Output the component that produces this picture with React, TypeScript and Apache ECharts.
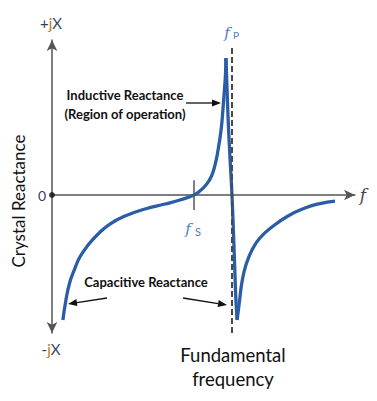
import React, { useEffect, useRef } from "react";
import * as echarts from "echarts";

// Reactance curve (frequency 0..10, reactance -8.9..10)
const capacitiveToInductive: [number, number][] = [
  [0.36, -8.06], [0.46, -6.77], [0.59, -5.61], [0.76, -4.71], [0.92, -4.0],
  [1.19, -3.23], [1.52, -2.52], [1.91, -1.87], [2.41, -1.35], [3.07, -0.9],
  [3.73, -0.58], [4.22, -0.32], [4.69, 0], [4.88, 0.26], [5.08, 0.65],
  [5.25, 1.16], [5.38, 1.94], [5.48, 2.9], [5.58, 4.19], [5.64, 5.48],
  [5.69, 6.77], [5.73, 7.94], [5.74, 8.84],
];
const resonanceDrop: [number, number][] = [
  [5.74, 8.84], [5.81, 5.03], [5.87, 2.58], [5.94, 0], [6.01, -3.55], [6.07, -6.77], [6.11, -8.06],
];
const capacitiveHigh: [number, number][] = [
  [6.11, -8.06], [6.2, -6.65], [6.27, -5.61], [6.4, -4.52], [6.6, -3.55],
  [6.86, -2.77], [7.26, -2.06], [7.79, -1.35], [8.35, -0.84], [8.84, -0.55], [9.34, -0.39],
];
const fS = 4.69;
const fP = 5.94;
const dashedTop = 9.48;
const yMin = -8.9;
const yMax = 10;
const xMin = 0;
const xMax = 10;

const CURVE = "#2b5ca8";
const AXIS = "#555555";

export default function App() {
  const ref = useRef<HTMLDivElement>(null);
  useEffect(() => {
    if (!ref.current) return;
    const chart = echarts.init(ref.current, undefined, { renderer: "svg" });
    const lineSeries = (data: [number, number][]) => ({
      type: "line",
      data,
      smooth: 0.5,
      showSymbol: false,
      symbol: "none",
      lineStyle: { color: CURVE, width: 3.3 },
      clip: false,
      silent: true,
      z: 3,
    });
    const arrowHead = (pts: number[][]) => ({
      type: "polygon",
      shape: { points: pts },
      style: { fill: "#111" },
    });
    const bold = { fontFamily: "Lato", fontWeight: "bold", fontSize: 13, fill: "#111" };
    const jx = {
      a: { fill: "#2d3d5c", fontSize: 15, fontFamily: "Lato" },
      b: { fill: "#c07a20", fontSize: 15, fontFamily: "Lato" },
      c: { fill: "#3d4a66", fontSize: 15, fontFamily: "Lato" },
    };
    chart.setOption({
      animation: false,
      grid: { left: 52, top: 40, width: 303, height: 293, containLabel: false },
      xAxis: {
        type: "value",
        min: xMin,
        max: xMax,
        axisLine: {
          show: true,
          onZero: true,
          symbol: ["none", "arrow"],
          symbolSize: [8, 11],
          lineStyle: { color: AXIS, width: 1.5 },
        },
        axisTick: { show: false },
        axisLabel: { show: false },
        splitLine: { show: false },
      },
      yAxis: {
        type: "value",
        min: yMin,
        max: yMax,
        axisLine: {
          show: true,
          symbol: ["arrow", "arrow"],
          symbolSize: [8, 11],
          lineStyle: { color: AXIS, width: 1.5 },
        },
        axisTick: { show: false },
        axisLabel: { show: false },
        splitLine: { show: false },
      },
      series: [
        {
          ...lineSeries(capacitiveToInductive),
          markLine: {
            silent: true,
            symbol: ["none", "none"],
            label: { show: false },
            data: [
              [
                { coord: [fP, dashedTop], lineStyle: { color: "#4a4a4a", width: 2, type: [6, 3] } },
                { coord: [fP, yMin] },
              ],
              [
                { coord: [fS, 0.96], lineStyle: { color: AXIS, width: 1.5, type: "solid" } },
                { coord: [fS, -0.96] },
              ],
            ],
          },
        },
        lineSeries(resonanceDrop),
        lineSeries(capacitiveHigh),
        {
          type: "scatter",
          data: [[0, 0]],
          symbolSize: 6,
          itemStyle: { color: "#111" },
          clip: false,
          silent: true,
          z: 4,
        },
      ],
      graphic: [
        {
          type: "text",
          x: 51,
          y: 23,
          style: { text: "{a|+}{b|j}{c|X}", align: "center", verticalAlign: "middle", rich: jx },
        },
        {
          type: "text",
          x: 51,
          y: 349,
          style: { text: "{a|-}{b|j}{c|X}", align: "center", verticalAlign: "middle", rich: jx },
        },
        {
          type: "text",
          x: 42,
          y: 195,
          style: { text: "0", fontSize: 14, fontFamily: "Lato", fill: "#3d4055", align: "center", verticalAlign: "middle" },
        },
        {
          type: "text",
          x: 18,
          y: 201,
          rotation: Math.PI / 2,
          style: { text: "Crystal Reactance", fontSize: 17, fontFamily: "Lato", fill: "#111", align: "center", verticalAlign: "middle" },
        },
        {
          type: "text",
          x: 363,
          y: 195,
          style: { text: "f", fontSize: 17, fontStyle: "italic", fontFamily: "DejaVu Serif", fill: "#444", align: "center", verticalAlign: "middle" },
        },
        {
          type: "text",
          x: 227,
          y: 33,
          style: { text: "f", fontSize: 15, fontStyle: "italic", fontFamily: "DejaVu Serif", fill: "#4a7cc4", align: "center", verticalAlign: "middle" },
        },
        {
          type: "text",
          x: 236,
          y: 35,
          style: { text: "P", fontSize: 10, fontFamily: "Lato", fill: "#4a7cc4", align: "center", verticalAlign: "middle" },
        },
        {
          type: "text",
          x: 188,
          y: 229,
          style: { text: "f", fontSize: 15, fontStyle: "italic", fontFamily: "DejaVu Serif", fill: "#4a7cc4", align: "center", verticalAlign: "middle" },
        },
        {
          type: "text",
          x: 198,
          y: 231,
          style: { text: "S", fontSize: 11, fontFamily: "Lato", fill: "#4a7cc4", align: "center", verticalAlign: "middle" },
        },
        {
          type: "text",
          x: 125,
          y: 95,
          style: { ...bold, text: "Inductive Reactance", align: "center", verticalAlign: "middle" },
        },
        {
          type: "text",
          x: 125,
          y: 114,
          style: { ...bold, text: "(Region of operation)", align: "center", verticalAlign: "middle" },
        },
        {
          type: "text",
          x: 146,
          y: 282,
          style: { ...bold, text: "Capacitive Reactance", align: "center", verticalAlign: "middle" },
        },
        {
          type: "text",
          x: 233,
          y: 355,
          style: { text: "Fundamental", fontSize: 18.5, fontFamily: "Lato", fill: "#111", align: "center", verticalAlign: "middle" },
        },
        {
          type: "text",
          x: 233,
          y: 379,
          style: { text: "frequency", fontSize: 18.5, fontFamily: "Lato", fill: "#111", align: "center", verticalAlign: "middle" },
        },
        { type: "line", shape: { x1: 186, y1: 103, x2: 213, y2: 103 }, style: { stroke: "#111", lineWidth: 1.3 } },
        arrowHead([[221, 103], [212, 99.5], [212, 106.5]]),
        { type: "line", shape: { x1: 107, y1: 298, x2: 76.9, y2: 302.6 }, style: { stroke: "#111", lineWidth: 1.3 } },
        arrowHead([[68, 304], [77.4, 306.1], [76.4, 299.1]]),
        { type: "line", shape: { x1: 183, y1: 298, x2: 218.1, y2: 303.6 }, style: { stroke: "#111", lineWidth: 1.3 } },
        arrowHead([[227, 305], [217.6, 307.1], [218.7, 300.1]]),
      ],
    });
    return () => chart.dispose();
  }, []);
  return (
    <div
      ref={ref}
      style={{ position: "absolute", left: 0, top: 0, width: 377, height: 401, background: "#fff" }}
    />
  );
}
